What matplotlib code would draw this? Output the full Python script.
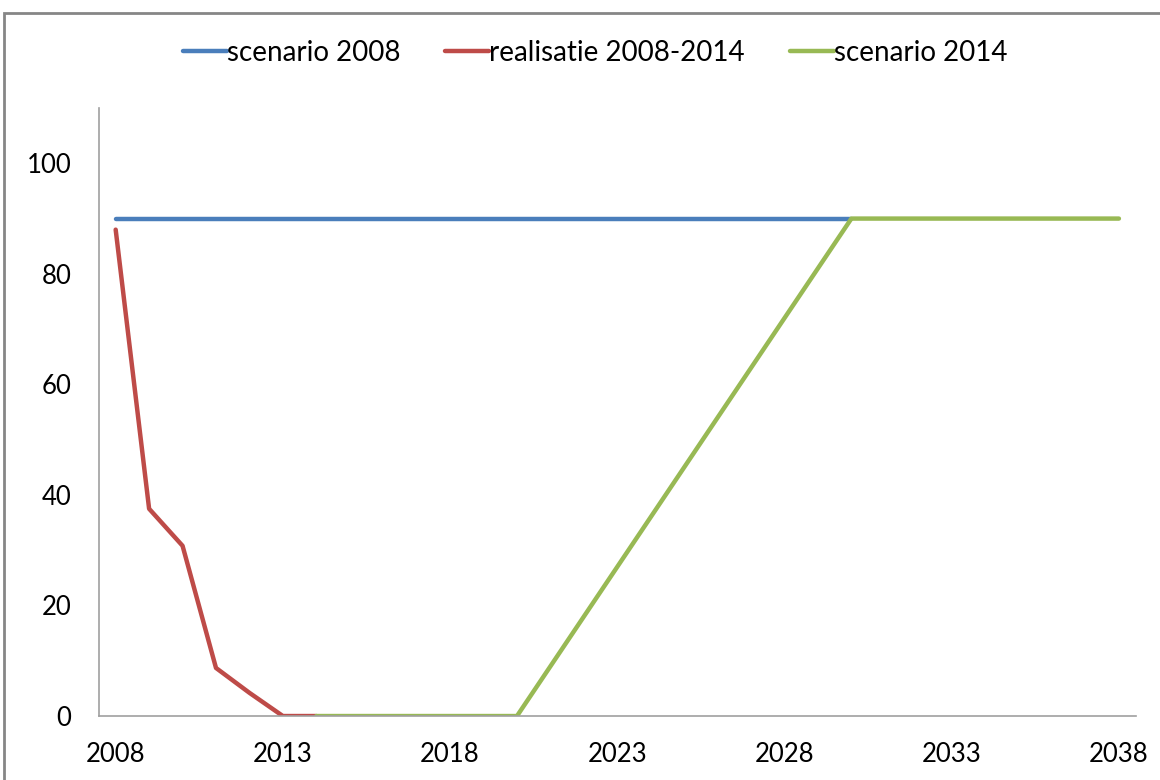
import numpy as np
import matplotlib.pyplot as plt
from matplotlib.patches import Rectangle

years = list(range(2008, 2039))

scenario_2008 = [90] * 23  # 2008-2030
realisatie = [88, 37.5, 30.8, 8.7, 4.2, 0, 0]  # 2008-2014
scenario_2014 = [0, 0, 0, 0, 0, 0, 0, 9, 18, 27, 36, 45, 54, 63, 72, 81, 90,
                 90, 90, 90, 90, 90, 90, 90, 90]  # 2014-2038

x_labels = [str(y) for y in years]

plt.rcParams['font.family'] = ['Lato', 'DejaVu Sans']

fig = plt.figure(figsize=(11.6, 7.8), dpi=100, facecolor='w')
ax = fig.add_axes([0.0853, 0.082, 0.8937, 0.7795])

x = np.arange(len(years))
ax.plot(x[:len(scenario_2008)], scenario_2008, color='#4a7ebb', lw=3.2,
        label='scenario 2008', solid_capstyle='round')
ax.plot(x[:len(realisatie)], realisatie, color='#be4b48', lw=3.2,
        label='realisatie 2008-2014', solid_capstyle='round')
ax.plot(x[6:6 + len(scenario_2014)], scenario_2014, color='#98b954', lw=3.2,
        label='scenario 2014', solid_capstyle='round')

ax.set_xlim(-0.5, len(years) - 0.5)
ax.set_ylim(0, 110)
ax.set_xticks(x[::5])
ax.set_xticklabels(x_labels[::5], fontsize=18.5)
ax.set_yticks([0, 20, 40, 60, 80, 100])
ax.set_yticklabels(['0', '20', '40', '60', '80', '100'], fontsize=18.5)
ax.tick_params(length=0)
ax.tick_params(axis='x', pad=19)
ax.tick_params(axis='y', pad=20)

for s in ['top', 'right']:
    ax.spines[s].set_visible(False)
for s in ['left', 'bottom']:
    ax.spines[s].set_color('#a0a0a0')
    ax.spines[s].set_linewidth(1.2)

fig.legend(loc='center', bbox_to_anchor=(0.513, 0.932), ncol=3, frameon=False,
           fontsize=20, handlelength=1.6, handletextpad=0.0, columnspacing=1.6)

fig.patches.append(Rectangle((4 / 1160, -0.1), 1.2, 1 - 13 / 780 + 0.1,
                             transform=fig.transFigure, fill=False,
                             edgecolor='#868686', lw=2))

plt.savefig('out.png', dpi=100)
